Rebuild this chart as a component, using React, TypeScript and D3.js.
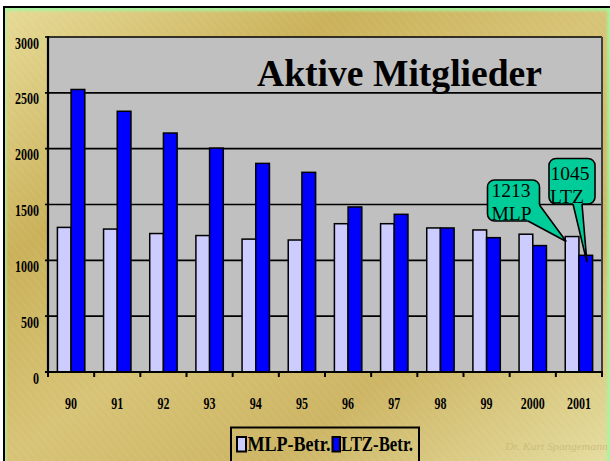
import React from "react";
import * as d3 from "d3";

const years = ["90", "91", "92", "93", "94", "95", "96", "97", "98", "99", "2000", "2001"];
const mlpValues = [1295, 1280, 1240, 1222, 1190, 1182, 1328, 1328, 1290, 1272, 1234, 1213];
const ltzValues = [2530, 2335, 2140, 2005, 1868, 1788, 1478, 1412, 1290, 1203, 1132, 1045];
const yTicks = [0, 500, 1000, 1500, 2000, 2500, 3000];
const seriesNames = ["MLP-Betr.", "LTZ-Betr."];
const titleText = "Aktive Mitglieder";

const W = 610;
const H = 461;
const plot = { left: 48, right: 602, top: 37, bottom: 372 };
const MLP_COLOR = "#ccccff";
const LTZ_COLOR = "#0000ff";
const TEAL = "#00cc99";
const FONT = "'Liberation Serif', 'Times New Roman', serif";

export default function App() {
  const x = d3.scaleBand<string>().domain(years).range([plot.left, plot.right]).padding(0);
  const bw = x.bandwidth();
  const inner = d3.scaleBand<string>().domain(["MLP", "LTZ"]).range([9.4, bw - 9.4]).padding(0);
  const y = d3.scaleLinear().domain([0, 3000]).range([plot.bottom, plot.top]);
  const ibw = inner.bandwidth();

  const last = years[years.length - 1];
  const mlpLast = mlpValues[mlpValues.length - 1];
  const ltzLast = ltzValues[ltzValues.length - 1];
  const mlpTip: [number, number] = [(x(last) as number) + (inner("MLP") as number) + 1, y(mlpLast) + 5];
  const ltzTip: [number, number] = [(x(last) as number) + (inner("LTZ") as number) + 8, y(ltzLast) + 7];

  const hatch = [] as number[];
  for (let i = -W; i < W + H; i += 5) hatch.push(i);

  return (
    <svg width={W} height={H} style={{ position: "absolute", left: 0, top: 0, display: "block" }}>
      <defs>
        <linearGradient id="bg" x1="0" y1="0" x2="1" y2="1">
          <stop offset="0" stopColor="#e8dc98" />
          <stop offset="0.28" stopColor="#cab158" />
          <stop offset="0.5" stopColor="#d8c476" />
          <stop offset="0.72" stopColor="#cdb563" />
          <stop offset="1" stopColor="#e6dea0" />
        </linearGradient>
        <pattern id="hatch" width="6" height="6" patternUnits="userSpaceOnUse" patternTransform="rotate(-40)">
          <line x1="0" y1="0" x2="0" y2="6" stroke="#e8a0a0" strokeWidth="0.6" opacity="0.35" />
          <line x1="3" y1="0" x2="3" y2="6" stroke="#c8e8a0" strokeWidth="0.5" opacity="0.3" />
        </pattern>
        <linearGradient id="greenTop" x1="0" y1="0" x2="0" y2="1">
          <stop offset="0" stopColor="#a0f8a0" />
          <stop offset="1" stopColor="#a0f8a0" stopOpacity="0" />
        </linearGradient>
        <linearGradient id="greenLeft" x1="0" y1="0" x2="1" y2="0">
          <stop offset="0" stopColor="#a0f8a0" />
          <stop offset="1" stopColor="#a0f8a0" stopOpacity="0" />
        </linearGradient>
        <linearGradient id="greenRight" x1="1" y1="0" x2="0" y2="0">
          <stop offset="0" stopColor="#a0f8a0" />
          <stop offset="1" stopColor="#a0f8a0" stopOpacity="0" />
        </linearGradient>
      </defs>

      <rect x={0} y={0} width={W} height={H} fill="#ffffff" />
      {/* slide background */}
      <rect x={4} y={8} width={W - 4} height={H - 8} fill="url(#bg)" />
      <rect x={4} y={8} width={W - 4} height={H - 8} fill="url(#hatch)" />
      <rect x={4} y={8} width={W - 4} height={5} fill="url(#greenTop)" />
      <rect x={4} y={8} width={4} height={H - 8} fill="url(#greenLeft)" />
      <rect x={W - 5} y={8} width={5} height={H - 8} fill="url(#greenRight)" />
      <line x1={3} y1={7} x2={W} y2={7} stroke="#000" strokeWidth={2} />
      <line x1={4} y1={7} x2={4} y2={H} stroke="#000" strokeWidth={2} />

      {/* plot area */}
      <rect x={plot.left} y={plot.top} width={plot.right - plot.left} height={plot.bottom - plot.top} fill="#c0c0c0" />

      {/* gridlines */}
      {yTicks.filter((t) => t > 0).map((t) => (
        <line key={t} x1={plot.left - 3} x2={plot.right} y1={y(t)} y2={y(t)} stroke="#000" strokeWidth={1.6} />
      ))}

      {/* title */}
      <text x={399.5} y={86} textAnchor="middle" fontFamily={FONT} fontWeight="bold" fontSize={38} textLength={285} lengthAdjust="spacingAndGlyphs" fill="#000">
        {titleText}
      </text>

      {/* bars */}
      {years.map((yr, i) => {
        const x0 = x(yr) as number;
        return (
          <g key={yr}>
            <rect x={x0 + (inner("MLP") as number) + 1} y={y(mlpValues[i]) + 1} width={ibw} height={plot.bottom - y(mlpValues[i])} fill="#8a8a8a" opacity={0.35} />
            <rect x={x0 + (inner("MLP") as number)} y={y(mlpValues[i])} width={ibw} height={plot.bottom - y(mlpValues[i])} fill={MLP_COLOR} stroke="#000" strokeWidth={1.5} />
            <rect x={x0 + (inner("LTZ") as number) + 1} y={y(ltzValues[i]) + 1} width={ibw} height={plot.bottom - y(ltzValues[i])} fill="#8a8a8a" opacity={0.35} />
            <rect x={x0 + (inner("LTZ") as number)} y={y(ltzValues[i])} width={ibw} height={plot.bottom - y(ltzValues[i])} fill={LTZ_COLOR} stroke="#000" strokeWidth={1.5} />
          </g>
        );
      })}

      {/* axes */}
      <line x1={plot.right} x2={plot.right} y1={plot.top} y2={plot.bottom} stroke="#404040" strokeWidth={2} />
      <line x1={plot.left} x2={plot.left} y1={plot.top - 1} y2={plot.bottom + 1} stroke="#000" strokeWidth={2.2} />
      <line x1={plot.left - 3} x2={plot.right + 1} y1={plot.bottom} y2={plot.bottom} stroke="#000" strokeWidth={2.2} />
      {years.map((yr) => (
        <line key={"t" + yr} x1={x(yr) as number} x2={x(yr) as number} y1={plot.bottom} y2={plot.bottom + 5} stroke="#000" strokeWidth={2} />
      ))}
      <line x1={plot.right} x2={plot.right} y1={plot.bottom} y2={plot.bottom + 5} stroke="#000" strokeWidth={2} />

      {/* y tick labels */}
      {yTicks.map((t) => {
        const s = String(t);
        const w = s.length * 6;
        return (
          <text key={"yl" + t} x={39 - w} y={y(t) + 11.5} fontFamily={FONT} fontWeight="bold" fontSize={17} textLength={w} lengthAdjust="spacingAndGlyphs" fill="#000">
            {s}
          </text>
        );
      })}

      {/* x tick labels */}
      {years.map((yr) => {
        const w = yr.length * 6;
        const cx = (x(yr) as number) + bw / 2;
        return (
          <text key={"xl" + yr} x={cx - w / 2} y={409} fontFamily={FONT} fontWeight="bold" fontSize={17} textLength={w} lengthAdjust="spacingAndGlyphs" fill="#000">
            {yr}
          </text>
        );
      })}

      {/* callout MLP */}
      <g>
        <rect x={487.5} y={180} width={52} height={41} rx={7} fill={TEAL} stroke="#000" strokeWidth={1.6} />
        <path d={`M539.5,205 L${mlpTip[0]},${mlpTip[1]} L528,221 L525,214 L534,203 Z`} fill={TEAL} />
        <path d={`M539.5,205 L${mlpTip[0]},${mlpTip[1]} L528,221`} fill="none" stroke="#000" strokeWidth={1.6} />
        <text x={491.5} y={197} fontFamily={FONT} fontSize={19.5} fill="#000">{String(mlpLast)}</text>
        <text x={491.5} y={219.5} fontFamily={FONT} fontSize={19.5} fill="#000">MLP</text>
      </g>
      {/* callout LTZ */}
      <g>
        <rect x={549} y={158.5} width={46} height={45.5} rx={7} fill={TEAL} stroke="#000" strokeWidth={1.6} />
        <path d={`M573,200 L573,204 L${ltzTip[0]},${ltzTip[1]} L582,204 L582,200 Z`} fill={TEAL} />
        <path d={`M573,204 L${ltzTip[0]},${ltzTip[1]} L582,204`} fill="none" stroke="#000" strokeWidth={1.6} />
        <text x={550.5} y={179.5} fontFamily={FONT} fontSize={19.5} fill="#000">{String(ltzLast)}</text>
        <text x={550} y={203.3} fontFamily={FONT} fontSize={19.5} fill="#000">LTZ</text>
      </g>

      {/* legend */}
      <rect x={231} y={427.5} width={188} height={36} fill="none" stroke="#000" strokeWidth={2} />
      <rect x={237} y={437} width={9} height={14.5} fill={MLP_COLOR} stroke="#000" strokeWidth={2} />
      <text x={247.5} y={451} fontFamily={FONT} fontWeight="bold" fontSize={21} textLength={83} lengthAdjust="spacingAndGlyphs" fill="#000">{seriesNames[0]}</text>
      <rect x={332.5} y={437} width={7.5} height={14.5} fill={LTZ_COLOR} stroke="#000" strokeWidth={2} />
      <text x={341} y={451} fontFamily={FONT} fontWeight="bold" fontSize={21} textLength={72} lengthAdjust="spacingAndGlyphs" fill="#000">{seriesNames[1]}</text>

      {/* watermark */}
      <text x={505} y={450} fontFamily={FONT} fontStyle="italic" fontSize={10} fill="#c9b97a" opacity={0.8} textLength={103} lengthAdjust="spacingAndGlyphs">Dr. Kurt Spangemann</text>
    </svg>
  );
}
